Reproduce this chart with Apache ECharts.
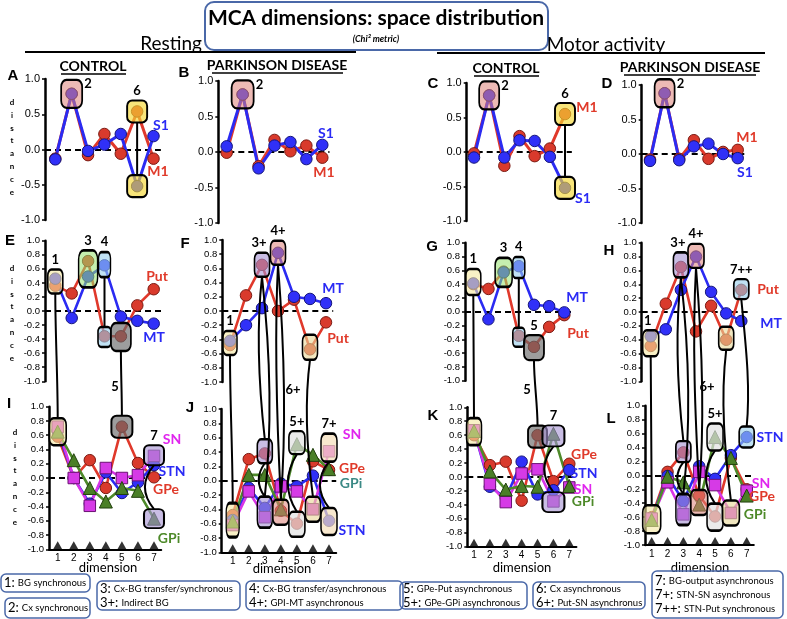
<!DOCTYPE html>
<html><head><meta charset="utf-8">
<script src="https://cdn.jsdelivr.net/npm/echarts@6/dist/echarts.min.js"></script>
<style>html,body{margin:0;padding:0;background:#fff}#c{width:787px;height:619px}</style>
</head><body><div id="c"></div>
<script>
// ---------- data ----------
const dims = [1, 2, 3, 4, 5, 6, 7];
const yTicksRow1 = 0.5;
const yTicksRow23 = 0.2;
// Resting / Control
const A_S1 = [-0.14, 0.79, -0.02, 0.07, 0.22, -0.52, 0.19];
const A_M1 = [-0.13, 0.79, -0.08, 0.22, -0.06, 0.54, -0.13];
const E_MT = [0.46, -0.10, 0.49, 0.65, -0.08, -0.14, -0.18];
const E_Put = [0.36, 0.25, 0.71, -0.36, -0.36, 0.08, 0.31];
const I_SN = [0.72, 0.00, -0.39, 0.14, 0.00, 0.04, 0.31];
const I_STN = [0.66, 0.00, -0.36, 0.08, -0.21, -0.06, 0.18];
const I_GPe = [0.58, 0.00, 0.25, -0.14, 0.72, 0.21, 0.01];
const I_GPi = [0.65, 0.25, -0.14, -0.33, -0.14, -0.18, -0.57];
// Resting / Parkinson
const B_S1 = [0.08, 0.81, -0.23, 0.09, 0.14, -0.10, 0.10];
const B_M1 = [-0.01, 0.81, -0.20, 0.17, 0.01, 0.09, -0.08];
const F_MT = [-0.42, -0.20, 0.04, 0.82, 0.20, 0.17, 0.11];
const F_Put = [-0.48, 0.22, 0.65, 0.00, 0.16, -0.54, -0.16];
const J_SN = [-0.62, -0.15, -0.51, -0.08, -0.15, -0.40, 0.41];
const J_STN = [-0.55, -0.10, -0.38, -0.04, -0.08, 0.07, -0.56];
const J_GPe = [-0.48, 0.30, 0.38, -0.42, -0.60, 0.27, 0.15];
const J_GPi = [-0.57, 0.08, 0.08, -0.40, 0.51, 0.36, 0.16];
// Motor activity / Control
const C_S1 = [-0.08, 0.82, -0.08, 0.17, 0.16, -0.07, -0.52];
const C_M1 = [-0.02, 0.82, -0.20, 0.23, -0.06, 0.05, 0.55];
const G_MT = [0.41, -0.11, 0.57, 0.66, 0.10, 0.08, -0.01];
const G_Put = [0.40, 0.33, 0.58, -0.35, -0.51, -0.22, -0.05];
const K_SN = [0.67, -0.10, -0.36, 0.05, 0.11, -0.35, -0.15];
const K_STN = [0.67, -0.14, -0.30, 0.22, -0.25, -0.19, 0.10];
const K_GPe = [0.60, 0.17, 0.22, -0.34, 0.60, -0.06, 0.19];
const K_GPi = [0.66, 0.08, -0.18, -0.13, -0.14, 0.62, -0.13];
// Motor activity / Parkinson
const D_S1 = [-0.10, 0.88, -0.09, 0.11, 0.15, 0.00, -0.06];
const D_M1 = [-0.08, 0.88, -0.07, 0.20, -0.07, 0.03, 0.06];
const H_MT = [-0.35, -0.25, 0.32, 0.80, 0.29, -0.02, -0.13];
const H_Put = [-0.49, 0.12, 0.65, -0.28, 0.09, -0.40, 0.32];
const L_SN = [-0.62, -0.10, -0.56, 0.05, -0.14, -0.54, -0.22];
const L_STN = [-0.62, -0.01, -0.37, 0.13, -0.05, 0.29, 0.55];
const L_GPe = [-0.60, 0.05, 0.33, -0.29, -0.59, 0.25, -0.20];
const L_GPi = [-0.64, -0.02, -0.10, -0.42, 0.55, 0.25, -0.29];

// ---------- styles ----------
const COL = {
  blue: {line: '#2b2bf2', fill: '#3030f8', border: '#15157a', text: '#2a2af5'},
  red: {line: '#e0392b', fill: '#d93a2c', border: '#7a1a12', text: '#e03a2a'},
  mag: {line: '#d835e6', fill: '#d63ae6', border: '#6b1273', text: '#e025ee'},
  grn: {line: '#4e8a2a', fill: '#4a7f27', border: '#22400e', text: '#4e8a2a'},
  teal: {text: '#3c8a86'}
};
const BC = {
  pink: 'rgba(222,130,120,0.55)', yellow: 'rgba(245,215,50,0.65)', ly: 'rgba(245,232,160,0.6)',
  lg: 'rgba(150,225,110,0.55)', lb: 'rgba(150,205,235,0.6)', lav: 'rgba(165,145,210,0.6)',
  gray: 'rgba(105,105,105,0.65)', lgray: 'rgba(225,225,225,0.7)', beige: 'rgba(232,215,150,0.6)',
  peach: 'rgba(245,222,185,0.7)'
};
const row1 = (m, s) => [['M1', m, 'red', 'circle'], ['S1', s, 'blue', 'circle']];
const row2 = (p, m) => [['Put', p, 'red', 'circle'], ['MT', m, 'blue', 'circle']];
const row3 = (gpe, stn, sn, gpi) => [['GPe', gpe, 'red', 'circle'], ['STN', stn, 'blue', 'circle'], ['SN', sn, 'mag', 'rect'], ['GPi', gpi, 'grn', 'triangle']];

// boxes: [dim, value, w, h, colour, label, labelPos, id]
const panels = [
  {key: 'A', row: 1, ax: 45, x1: 55.3, x7: 153.5, yt: 79, yb: 220, ser: row1(A_M1, A_S1),
   boxes: [[2, 0.79, 21, 28, 'pink', '2', 'r'], [6, 0.54, 20, 22, 'yellow', '6', 't', 'A6a'], [6, -0.52, 20, 22, 'yellow', 0, 0, 'A6b']]},
  {key: 'B', row: 1, ax: 218.3, x1: 226.7, x7: 322.3, yt: 81, yb: 223, ser: row1(B_M1, B_S1),
   boxes: [[2, 0.81, 22, 28, 'pink', '2', 'r']]},
  {key: 'C', row: 1, ax: 466.7, x1: 474, x7: 565, yt: 83, yb: 221, ser: row1(C_M1, C_S1),
   boxes: [[2, 0.82, 20, 28, 'pink', '2', 'r'], [7, 0.55, 20, 22, 'yellow', '6', 't', 'C6a'], [7, -0.52, 20, 22, 'yellow', 0, 0, 'C6b']]},
  {key: 'D', row: 1, ax: 641.7, x1: 650, x7: 737.7, yt: 85, yb: 223, ser: row1(D_M1, D_S1),
   boxes: [[2, 0.88, 20, 28, 'pink', '2', 'r']]},
  {key: 'E', row: 2, ax: 45, x1: 55.3, x7: 153.7, yt: 240.7, yb: 381.3, ser: row2(E_Put, E_MT),
   boxes: [[1, 0.42, 15, 24, 'ly', '1', 't', 'E1'], [3, 0.6, 19, 37, 'lg', '3', 't'], [4, 0.66, 12, 25, 'lb', '4', 't', 'E4a'],
           [4, -0.37, 13, 20, 'lb', 0, 0, 'E4b'], [5, -0.37, 20, 28, 'gray', 0, 0, 'E5']]},
  {key: 'F', row: 2, ax: 222.3, x1: 230, x7: 326, yt: 240, yb: 382, ser: row2(F_Put, F_MT),
   boxes: [[1, -0.45, 14, 24, 'ly', '1', 't', 'F1'], [3, 0.65, 15, 24, 'lav', '3+', 'tl', 'F3'], [4, 0.82, 15, 24, 'pink', '4+', 't', 'F4'],
           [6, -0.51, 15, 25, 'beige', 0, 0, 'F6']]},
  {key: 'G', row: 2, ax: 465, x1: 473.3, x7: 564.3, yt: 242.7, yb: 380.7, ser: row2(G_Put, G_MT),
   boxes: [[1, 0.43, 15, 26, 'ly', '1', 't', 'G1'], [3, 0.57, 17, 29, 'lg', '3', 't'], [4, 0.64, 12, 21, 'lb', '4', 't', 'G4a'],
           [4, -0.37, 12, 19, 'lb', 0, 0, 'G4b'], [5, -0.52, 20, 25, 'gray', '5', 't', 'G5']]},
  {key: 'H', row: 2, ax: 641.7, x1: 650.7, x7: 741.3, yt: 242.7, yb: 381.3, ser: row2(H_Put, H_MT),
   boxes: [[1, -0.45, 16, 26, 'ly', '1', 'tl', 'H1'], [3, 0.68, 15, 25, 'lav', '3+', 'tl', 'H3'], [4, 0.81, 16, 24, 'pink', '4+', 't', 'H4'],
           [6, -0.38, 15, 23, 'beige', 0, 0, 'H6'], [7, 0.33, 15, 20, 'lb', '7++', 't', 'H7']]},
  {key: 'I', row: 3, ax: 49, x1: 57.7, x7: 154, yt: 406.7, yb: 549.3, ser: row3(I_GPe, I_STN, I_SN, I_GPi),
   boxes: [[1, 0.65, 17, 27, 'ly', 0, 0, 'I1'], [5, 0.72, 21, 22, 'gray', 0, 0, 'I5'], [7, 0.32, 20, 20, 'lav', '7', 't', 'I7a'],
           [7, -0.57, 20, 19, 'lav', 0, 0, 'I7b']]},
  {key: 'J', row: 3, ax: 221.7, x1: 232.7, x7: 329, yt: 409, yb: 552.3, ser: row3(J_GPe, J_STN, J_SN, J_GPi),
   boxes: [[1, -0.55, 13, 34, 'ly', 0, 0, 'J1'], [3, 0.41, 15, 24, 'lav', 0, 0, 'J3a'], [3, -0.44, 15, 31, 'lav', 0, 0, 'J3b'],
           [4, -0.44, 16, 25, 'pink', 0, 0, 'J4'], [5, 0.53, 16, 23, 'lgray', '5+', 't', 'J5a'], [5, -0.61, 16, 25, 'lgray', 0, 0, 'J5b'],
           [6, -0.40, 15, 25, 'beige', 0, 0, 'J6'], [7, 0.46, 16, 28, 'peach', '7+', 't', 'J7a'], [7, -0.57, 16, 27, 'peach', 0, 0, 'J7b']]},
  {key: 'K', row: 3, ax: 467.3, x1: 474, x7: 569.3, yt: 407.3, yb: 546.7, ser: row3(K_GPe, K_STN, K_SN, K_GPi),
   boxes: [[1, 0.65, 15, 27, 'ly', 0, 0, 'K1'], [5, 0.58, 19, 22, 'gray', 0, 0, 'K5'], [6, 0.59, 22, 21, 'lav', '7', 't', 'K7a'],
           [6, -0.36, 22, 20, 'lav', 0, 0, 'K7b']]},
  {key: 'L', row: 3, ax: 645, x1: 651.7, x7: 746.7, yt: 405.7, yb: 545, ser: row3(L_GPe, L_STN, L_SN, L_GPi),
   boxes: [[1, -0.63, 18, 28, 'ly', 0, 0, 'L1'], [3, 0.34, 15, 21, 'lav', 0, 0, 'L3a'], [3, -0.49, 15, 31, 'lav', 0, 0, 'L3b'],
           [4, -0.39, 17, 25, 'pink', 0, 0, 'L4'], [5, 0.55, 16, 27, 'lgray', '5+', 't', 'L5a'], [5, -0.60, 16, 27, 'lgray', 0, 0, 'L5b'],
           [6, -0.54, 17, 25, 'beige', 0, 0, 'L6'], [7, 0.55, 15, 21, 'lb', 0, 0, 'L7']]}
];
// connectors between boxes: [from, to, bend]
const links = [
  ['A6a', 'A6b', 0], ['C6a', 'C6b', 0],
  ['E1', 'I1', 0], ['E4a', 'E4b', 0], ['E5', 'I5', 0], ['I7a', 'I7b', -12],
  ['F1', 'J1', 0], ['F3', 'J3a', -6], ['F3', 'J3b', 8], ['J3a', 'J3b', -8], ['F4', 'J4', -4], ['F4', 'J4', 6],
  ['F6', 'J6', -6], ['J5a', 'J5b', -12], ['J7a', 'J7b', -12],
  ['G1', 'K1', 0], ['G4a', 'G4b', 0], ['G5', 'K5', 0], ['K7a', 'K7b', -12],
  ['H1', 'L1', 0], ['H3', 'L3a', -6], ['H3', 'L3b', 8], ['L3a', 'L3b', -8], ['H4', 'L4', -4], ['H4', 'L4', 6],
  ['H6', 'L6', -6], ['H7', 'L7', 4], ['L5a', 'L5b', -12]
];

// ---------- build ----------
const grids = [], xAxes = [], yAxes = [], series = [];
const FONT = 'Lato, "Open Sans", sans-serif';
panels.forEach((p, i) => {
  const s = (p.x7 - p.x1) / 6;
  grids.push({left: p.ax, top: p.yt, width: p.x7 + 0.45 * s - p.ax, height: p.yb - p.yt});
  const x = {type: 'value', gridIndex: i, min: 1 - (p.x1 - p.ax) / s, max: 7.45, splitLine: {show: false}, axisTick: {show: false}};
  if (p.row === 3) {
    Object.assign(x, {axisLine: {show: true, onZero: false, lineStyle: {color: '#000', width: 2}},
      axisLabel: {show: true, customValues: dims, formatter: v => String(v), fontSize: 10, color: '#000', margin: 4, fontFamily: 'Liberation Sans'}});
  } else {
    Object.assign(x, {axisLine: {show: false}, axisLabel: {show: false}});
  }
  xAxes.push(x);
  yAxes.push({type: 'value', gridIndex: i, min: -1, max: 1, interval: p.row === 1 ? yTicksRow1 : yTicksRow23,
    axisLine: {show: true, onZero: false, lineStyle: {color: '#000', width: 2.5}},
    axisTick: {show: true, length: 3, lineStyle: {color: '#000', width: 1.5}},
    splitLine: {show: false},
    axisLabel: {fontSize: p.row === 1 ? 11 : 9.5, color: '#000', margin: 5, fontFamily: 'Liberation Sans',
      formatter: v => (Math.abs(v) < 1e-9 ? 0 : v).toFixed(1)}});
  p.ser.forEach((sr, k) => {
    const c = COL[sr[2]];
    const o = {type: 'line', xAxisIndex: i, yAxisIndex: i, data: dims.map((d, j) => [d, sr[1][j]]),
      symbol: sr[3], symbolSize: sr[3] === 'triangle' ? 13 : 11.5,
      lineStyle: {color: c.line, width: p.row === 1 ? 3 : 2.6},
      itemStyle: {color: c.fill, borderColor: c.border, borderWidth: 1}, z: 2, silent: true, animation: false};
    if (k === 0) o.markLine = {silent: true, symbol: 'none', z: 1, animation: false, label: {show: false},
      lineStyle: {color: '#000', type: [6, 4], width: 2}, data: [{yAxis: 0}]};
    if (k === p.ser.length - 1) o.markPoint = {silent: true, z: 5, animation: false,
      data: p.boxes.map(b => {
        let label = {show: false};
        if (b[5]) {
          label = {show: true, formatter: b[5], color: '#000', fontSize: 13, fontWeight: 'bold', fontFamily: FONT};
          if (b[6] === 'r') Object.assign(label, {position: [b[2] + 3, -1], align: 'left', verticalAlign: 'top'});
          else if (b[6] === 'tl') Object.assign(label, {position: 'top', distance: 2, offset: [-3, 0]});
          else Object.assign(label, {position: 'top', distance: 2});
        }
        return {coord: [b[0], b[1]], symbol: 'roundRect', symbolSize: [b[2], b[3]],
          itemStyle: {color: BC[b[4]], borderColor: '#000', borderWidth: 2}, label};
      })};
    series.push(o);
  });
  if (p.row === 3) series.push({type: 'scatter', xAxisIndex: i, yAxisIndex: i, data: dims.map(d => [d, -1]),
    symbol: 'triangle', symbolSize: [9, 8], symbolOffset: [0, -4], itemStyle: {color: '#000'}, z: 3, silent: true, animation: false});
});

const chart = echarts.init(document.getElementById('c'), null, {width: 787, height: 619});
chart.setOption({animation: false, grid: grids, xAxis: xAxes, yAxis: yAxes, series});

// ---------- annotations ----------
const G = [];
function txt(t, x, y, o) {
  o = o || {};
  G.push({type: 'text', x, y, z: 10, silent: true, style: Object.assign({text: t, fill: '#000', fontSize: 13,
    fontFamily: FONT, align: 'center', verticalAlign: 'middle'}, o)});
}
function line(x1, y1, x2, y2, w, col) {
  G.push({type: 'line', z: 10, silent: true, shape: {x1, y1, x2, y2}, style: {stroke: col || '#000', lineWidth: w || 2}});
}
function rrect(x, y, w, h, r, lw) {
  G.push({type: 'rect', z: 10, silent: true, shape: {x, y, width: w, height: h, r}, style: {fill: 'none', stroke: '#4a68a8', lineWidth: lw || 1.5}});
}
// title
rrect(205, 2, 343, 48, 9, 2);
txt('MCA dimensions: space distribution', 376, 18, {fontSize: 21, fontWeight: 'bold'});
txt('(Chi² metric)', 376, 39, {fontSize: 9, fontWeight: 'bold', fontStyle: 'italic'});
txt('Resting', 171, 44, {fontSize: 19});
line(25, 52, 356, 52, 2);
txt('Motor activity', 606, 45, {fontSize: 19});
line(437, 53, 765, 53, 2);
// subheads
[['CONTROL', 93, 66], ['PARKINSON DISEASE', 277, 65], ['CONTROL', 506, 68], ['PARKINSON DISEASE', 690, 67]].forEach(h => {
  txt(h[0], h[1], h[2], {fontSize: 14, fontWeight: 'bold'});
});
line(61, 74, 126, 74, 1.3); line(212, 73, 343, 73, 1.3); line(474, 76, 539, 76, 1.3); line(624, 75, 756, 75, 1.3);
// panel letters
[['A', 13, 76], ['B', 184, 73], ['C', 433, 84], ['D', 607, 84], ['E', 10, 241], ['F', 185, 244], ['G', 432, 247], ['H', 609, 251],
 ['I', 9, 404], ['J', 190, 408], ['K', 433, 416], ['L', 611, 419]].forEach(l => {
  txt(l[0], l[1], l[2], {fontSize: 15, fontWeight: 'bold', fontFamily: 'Liberation Sans'});
});
// y axis names
[[12, 96], [12, 262], [15, 426]].forEach(d => {
  G.push({type: 'text', x: d[0], y: d[1], z: 10, silent: true, style: {text: 'd\ni\ns\nt\na\nn\nc\ne', fill: '#000', fontSize: 8,
    fontWeight: 'bold', fontFamily: FONT, align: 'center', verticalAlign: 'top', lineHeight: 12.8}});
});
// x axis names
[[108, 568], [282, 569], [522, 568], [700, 568]].forEach(d => txt('dimension', d[0], d[1], {fontSize: 13}));
// series labels
[['S1', 161, 125, 'blue'], ['M1', 158, 171, 'red'], ['S1', 326, 133, 'blue'], ['M1', 324, 172, 'red'],
 ['M1', 587, 107, 'red'], ['S1', 583, 198, 'blue'], ['M1', 747, 137, 'red'], ['S1', 745, 172, 'blue'],
 ['Put', 157, 276, 'red'], ['MT', 154, 337, 'blue'], ['MT', 333, 288, 'blue'], ['Put', 338, 338, 'red'],
 ['MT', 577, 297, 'blue'], ['Put', 578, 333, 'red'], ['Put', 768, 289, 'red'], ['MT', 771, 323, 'blue'],
 ['SN', 172, 439, 'mag'], ['STN', 172, 471, 'blue'], ['GPe', 166, 489, 'red'], ['GPi', 169, 538, 'grn'],
 ['SN', 352, 434, 'mag'], ['GPe', 352, 468, 'red'], ['GPi', 351, 483, 'teal'], ['STN', 352, 530, 'blue'],
 ['GPe', 584, 454, 'red'], ['STN', 584, 473, 'blue'], ['SN', 583, 489, 'mag'], ['GPi', 583, 501, 'grn'],
 ['STN', 770, 437, 'blue'], ['SN', 761, 483, 'mag'], ['GPe', 762, 496, 'red'], ['GPi', 755, 514, 'grn']].forEach(l => {
  txt(l[0], l[1], l[2], {fontSize: 14, fontWeight: 'bold', fill: COL[l[3]].text});
});
// connector labels
[['5', 115, 387], ['6+', 293, 390], ['5', 527, 390], ['6+', 707, 387]].forEach(l => txt(l[0], l[1], l[2], {fontSize: 13, fontWeight: 'bold'}));
// connectors via axis scales
const boxIndex = {};
panels.forEach((p, i) => p.boxes.forEach(b => { if (b[7]) boxIndex[b[7]] = {gi: i, d: b[0], v: b[1], h: b[3]}; }));
links.forEach(l => {
  const a = boxIndex[l[0]], b = boxIndex[l[1]];
  const pa = chart.convertToPixel({gridIndex: a.gi}, [a.d, a.v]);
  const pb = chart.convertToPixel({gridIndex: b.gi}, [b.d, b.v]);
  const x1 = pa[0], y1 = pa[1] + a.h / 2, x2 = pb[0], y2 = pb[1] - b.h / 2;
  const bend = l[2];
  G.push({type: 'bezierCurve', z: 9, silent: true, shape: {x1, y1, x2, y2,
    cpx1: x1 + bend, cpy1: y1 + (y2 - y1) * 0.33, cpx2: x2 + bend, cpy2: y1 + (y2 - y1) * 0.67},
    style: {stroke: '#000', lineWidth: 2, fill: 'none'}});
});
// legend boxes
const legendBoxes = [
  [1, 574, 89, 18, [['1:', 'BG synchronous']]],
  [5, 598, 85, 20, [['2:', 'Cx synchronous']]],
  [97, 581, 143, 29, [['3:', 'Cx-BG transfer/synchronous'], ['3+:', 'Indirect BG']]],
  [246, 581, 157, 29, [['4:', 'Cx-BG transfer/asynchronous'], ['4+:', 'GPI-MT asynchronous']]],
  [400, 582, 127, 27, [['5:', 'GPe-Put asynchronous'], ['5+:', 'GPe-GPi asynchronous']]],
  [533, 582, 112, 27, [['6:', 'Cx asynchronous'], ['6+:', 'Put-SN asynchronus']]],
  [652, 571, 131, 47, [['7:', 'BG-output asynchronous'], ['7+:', 'STN-SN asynchronous'], ['7++:', 'STN-Put synchronous']]]
];
legendBoxes.forEach(b => {
  rrect(b[0], b[1], b[2], b[3], 5, 1.5);
  const text = b[4].map(r => '{n|' + r[0] + '} {t|' + r[1] + '}').join('\n');
  G.push({type: 'text', x: b[0] + 3, y: b[1] + b[3] / 2, z: 10, silent: true, style: {text, fill: '#000', fontFamily: FONT,
    align: 'left', verticalAlign: 'middle', lineHeight: 14,
    rich: {n: {fontSize: 13, fontFamily: FONT, lineHeight: 14}, t: {fontSize: 9.5, fontFamily: FONT, lineHeight: 14}}}});
});
chart.setOption({graphic: {elements: G}});
</script>
</body></html>
